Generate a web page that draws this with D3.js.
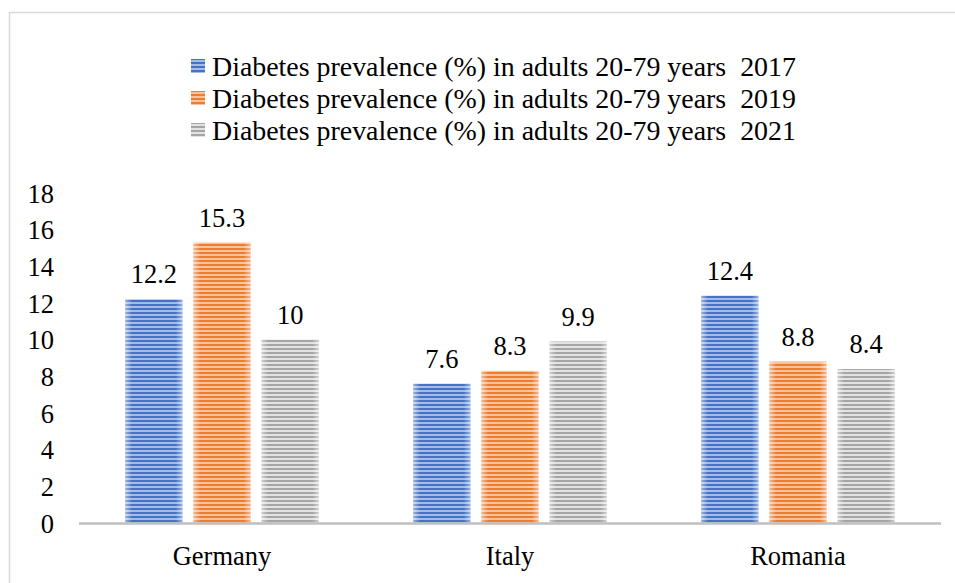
<!DOCTYPE html>
<html>
<head>
<meta charset="utf-8">
<script src="https://cdn.jsdelivr.net/npm/d3@7"></script>
<style>
  html, body { margin: 0; padding: 0; background: #fff; }
  svg { display: block; }
</style>
</head>
<body>
<svg id="chart" width="955" height="583"></svg>
<script>
// Diabetes prevalence by country and survey year
const countries = ["Germany", "Italy", "Romania"];
const seriesNames = [
  "Diabetes prevalence (%) in adults 20-79 years  2017",
  "Diabetes prevalence (%) in adults 20-79 years  2019",
  "Diabetes prevalence (%) in adults 20-79 years  2021"
];
const values2017 = [12.2, 7.6, 12.4];
const values2019 = [15.3, 8.3, 8.8];
const values2021 = [10, 9.9, 8.4];
const yTicks = [0, 2, 4, 6, 8, 10, 12, 14, 16, 18];

const seriesValues = [values2017, values2019, values2021];
const palette = [
  { dark: "#4472c4", light: "#a4bbe6" },
  { dark: "#ed7d31", light: "#f8c29d" },
  { dark: "#a5a5a5", light: "#e2e2e2" }
];
const FONT = "'Liberation Serif'";
const FS = 26.5;

const svg = d3.select("#chart");
const defs = svg.append("defs");

// horizontal stripe fill for each series
palette.forEach((c, i) => {
  const p = defs.append("pattern")
    .attr("id", "stripe" + i)
    .attr("patternUnits", "userSpaceOnUse")
    .attr("width", 8).attr("height", 4);
  p.append("rect").attr("width", 8).attr("height", 4).attr("fill", c.light);
  p.append("rect").attr("y", 0).attr("width", 8).attr("height", 2).attr("fill", c.dark);
});
// soft light edge on the bar sides
const edge = defs.append("linearGradient").attr("id", "edge").attr("x1", 0).attr("x2", 1);
edge.append("stop").attr("offset", 0).attr("stop-color", "#fff").attr("stop-opacity", 0.45);
edge.append("stop").attr("offset", 0.12).attr("stop-color", "#fff").attr("stop-opacity", 0);
edge.append("stop").attr("offset", 0.88).attr("stop-color", "#fff").attr("stop-opacity", 0);
edge.append("stop").attr("offset", 1).attr("stop-color", "#fff").attr("stop-opacity", 0.45);

// chart frame
svg.append("rect")
  .attr("x", 9.5).attr("y", 12.5).attr("width", 960).attr("height", 600)
  .attr("fill", "none").attr("stroke", "#d9d9d9").attr("stroke-width", 1.5);

const plotLeft = 78, plotRight = 942, plotTop = 193, plotBottom = 523;

const x0 = d3.scaleBand().domain(countries).range([plotLeft, plotRight]);
const x1 = d3.scaleBand().domain(d3.range(seriesNames.length))
  .range([0, x0.bandwidth()]).paddingInner(0.162).paddingOuter(0.694);
const y = d3.scaleLinear().domain([0, 18]).range([plotBottom, plotTop]);

// y axis labels
const yAxis = d3.axisLeft(y).tickValues(yTicks).tickSize(0).tickPadding(0).tickFormat(d3.format("d"));
const yg = svg.append("g").attr("transform", `translate(${54},0)`).call(yAxis);
yg.select(".domain").remove();
yg.selectAll("text").attr("dy", "0.34em")
  .style("font-family", FONT).style("font-size", FS + "px").attr("fill", "#000");

// bars
const groups = svg.append("g").selectAll("g").data(countries).join("g")
  .attr("transform", d => `translate(${x0(d)},0)`);

groups.each(function (country, ci) {
  const g = d3.select(this);
  seriesValues.forEach((vals, si) => {
    const v = vals[ci];
    const bx = x1(si), bw = x1.bandwidth();
    g.append("rect").attr("x", bx).attr("y", y(v)).attr("width", bw).attr("height", y(0) - y(v))
      .attr("fill", `url(#stripe${si})`);
    g.append("rect").attr("x", bx).attr("y", y(v)).attr("width", bw).attr("height", y(0) - y(v))
      .attr("fill", "url(#edge)");
    g.append("text").attr("x", bx + bw / 2).attr("y", y(v) - 16)
      .attr("text-anchor", "middle")
      .style("font-family", FONT).style("font-size", FS + "px").attr("fill", "#000")
      .text(v);
  });
});

// category axis
svg.append("line").attr("x1", plotLeft + 1).attr("x2", plotRight - 1)
  .attr("y1", plotBottom + 0.5).attr("y2", plotBottom + 0.5)
  .attr("stroke", "#bfbfbf").attr("stroke-width", 2.5);
const xAxis = d3.axisBottom(x0).tickSize(0).tickPadding(0);
const xg = svg.append("g").attr("transform", `translate(0,${565})`).call(xAxis);
xg.select(".domain").remove();
xg.selectAll("text").attr("dy", 0)
  .style("font-family", FONT).style("font-size", FS + "px").attr("fill", "#000");

// legend
const legend = svg.append("g").selectAll("g").data(seriesNames).join("g")
  .attr("transform", (d, i) => `translate(191,${66 + i * 32})`);
legend.append("rect").attr("x", 0).attr("y", -7).attr("width", 14).attr("height", 14)
  .attr("fill", (d, i) => `url(#stripe${i})`);
legend.append("text").attr("x", 21).attr("y", 0).attr("dy", "0.34em")
  .style("font-family", FONT).style("font-size", "27.9px").style("white-space", "pre")
  .attr("fill", "#000").text(d => d);
</script>
</body>
</html>
